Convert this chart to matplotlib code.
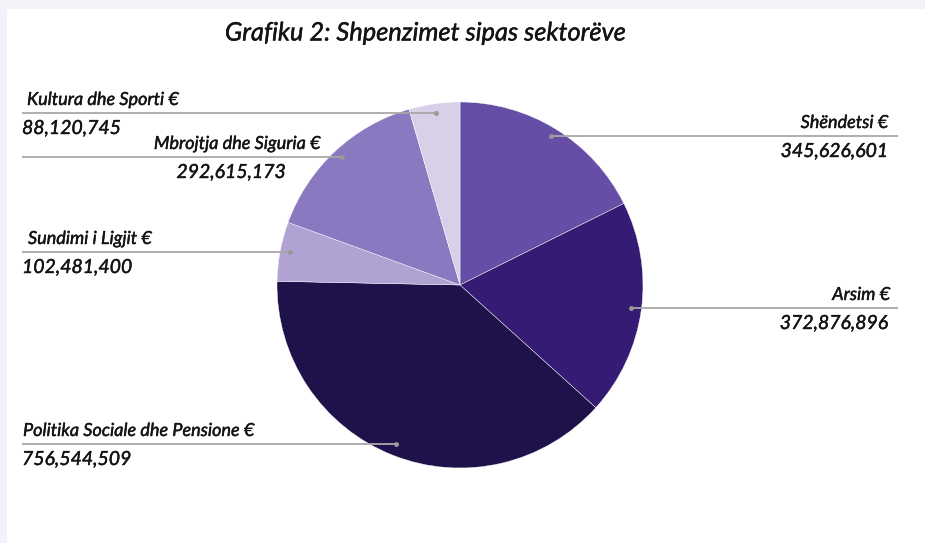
import matplotlib.pyplot as plt
import matplotlib.patheffects as pe
import numpy as np
from matplotlib.patches import Rectangle

sectors = ['Shëndetsi €', 'Arsim €', 'Politika Sociale dhe Pensione €',
           'Sundimi i Ligjit €', 'Mbrojtja dhe Siguria €', 'Kultura dhe Sporti €']
values = [345626601, 372876896, 756544509, 102481400, 292615173, 88120745]
colors = ['#664ea6', '#351b73', '#1f124b', '#b1a2d4', '#8a79c0', '#d8d0e9']

# label layout in pixels (x end of leader line, label y) ; y measured from top of image
label_lines = [(898, 136), (898, 308), (22, 444), (22, 252), (22, 157), (22, 113)]
label_text_x = [888, 890, 23, 28, 237, 27]
value_text_x = [888, 888, 22, 22, 231, 22]
aligns = ['right', 'right', 'left', 'left', 'center', 'left']

W, H = 925, 543
fig = plt.figure(figsize=(9.25, 5.43), dpi=100)
fig.patch.set_facecolor('#f3f2f8')
ax = fig.add_axes([0, 0, 1, 1])
ax.add_patch(Rectangle((7, 0), W, H - 9, facecolor='white', edgecolor='none', zorder=0))

cx, cy, R = 460, H - 285, 183
wedges, _ = ax.pie(values, colors=colors, startangle=90, counterclock=False,
                   center=(cx, cy), radius=R,
                   wedgeprops=dict(edgecolor='white', linewidth=0.3))
for w in wedges:
    w.set_zorder(2)

ax.set_xlim(0, W)
ax.set_ylim(0, H)
ax.set_aspect('equal')
ax.axis('off')

# slight stroke to get a medium weight look
thick = [pe.withStroke(linewidth=0.3, foreground='#141414')]
font = dict(family='Lato', style='italic', color='#141414', path_effects=thick)

for i, w in enumerate(wedges):
    mid = np.deg2rad((w.theta1 + w.theta2) / 2)
    dx = cx + 0.945 * R * np.cos(mid)
    lx, ly = label_lines[i]
    ly = H - ly
    ax.plot([dx, lx], [ly, ly], color='#a8a8a8', lw=1.3, zorder=3, solid_capstyle='butt')
    ax.plot([dx], [ly], marker='o', ms=2.5, color='#999999', zorder=4)
    ax.text(label_text_x[i], ly + 5, sectors[i], ha=aligns[i], va='bottom',
            fontsize=13, zorder=5, **font)
    ax.text(value_text_x[i], ly - 7, f'{values[i]:,}', ha=aligns[i], va='top',
            fontsize=14, zorder=5, **font)

ax.text(425, H - 33, 'Grafiku 2: Shpenzimet sipas sektorëve', ha='center', va='center',
        fontsize=18.3, **font)

fig.savefig('out.png', dpi=100, facecolor=fig.get_facecolor())
